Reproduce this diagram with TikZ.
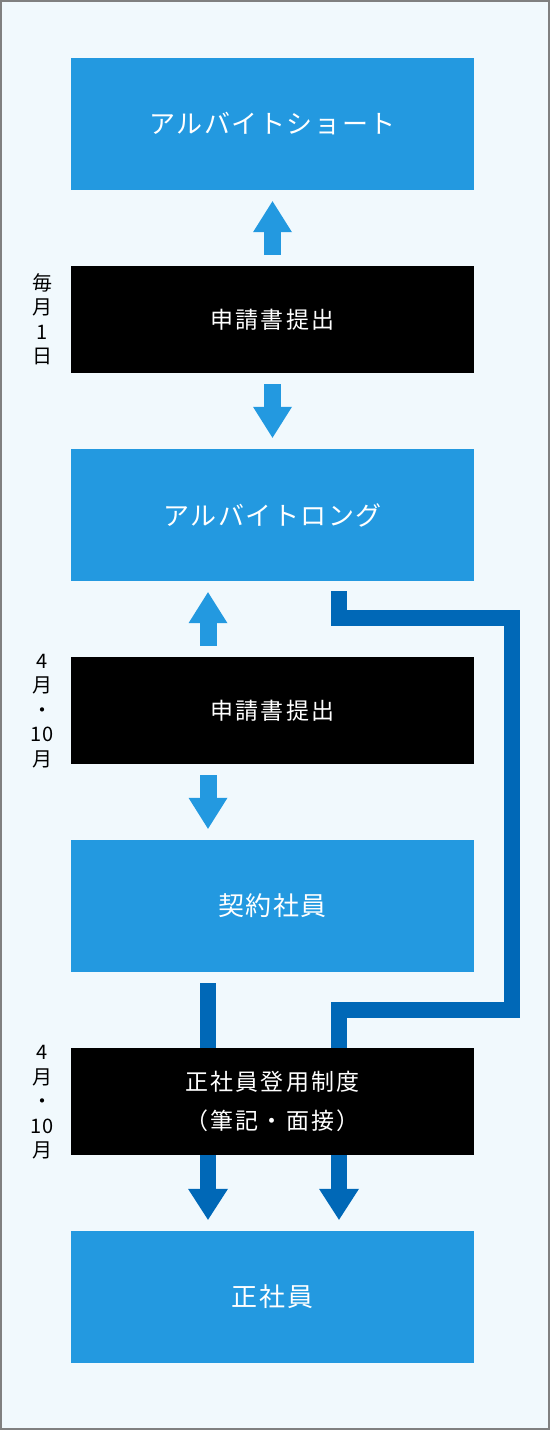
\documentclass[tikz,border=0pt]{standalone}
\usepackage{fontspec}
\setmainfont{Noto Sans CJK JP}
\newfontfamily\boxfont[LetterSpace=6]{Noto Sans CJK JP}
\newfontfamily\applyfont[LetterSpace=10]{Noto Sans CJK JP}
\usetikzlibrary{arrows.meta}
\definecolor{paleblue}{HTML}{F1F9FD}
\definecolor{boxblue}{HTML}{2399E0}
\definecolor{deepblue}{HTML}{0068B7}
\definecolor{rimgray}{HTML}{808080}
\begin{document}
\begin{tikzpicture}[x=1pt,y=-1pt,
    stage/.style={rectangle, fill=boxblue, text=white, inner sep=0pt,
      minimum width=403pt, minimum height=132pt,
      font=\boxfont\fontsize{26pt}{30pt}\selectfont},
    apply/.style={rectangle, fill=black, text=white, inner sep=0pt, align=center,
      minimum width=403pt, minimum height=107pt,
      font=\applyfont\fontsize{23pt}{39pt}\selectfont},
    when/.style={inner sep=0pt, align=center,
      font=\fontsize{20pt}{24.5pt}\selectfont},
    lift/.style={draw=boxblue, line width=17pt,
      -{Triangle[width=39pt,length=31pt,line width=0pt]},
      shorten <=11pt, shorten >=11pt},
    promote/.style={draw=deepblue, line width=16pt,
      -{Triangle[width=40pt,length=31pt,line width=0pt]},
      shorten <=11pt, shorten >=11pt}]
  \useasboundingbox (0,0) rectangle (550,1430);
  \fill[paleblue] (0,0) rectangle (550,1430);
  \draw[rimgray, line width=2pt] (1,1) rectangle (549,1429);
  % stages
  \node[stage] (short) at (272.5,124) {アルバイトショート};
  \node[stage] (long) at (272.5,515) {アルバイトロング};
  \node[stage] (contract) at (272.5,906) {契約社員};
  \node[stage] (regular) at (272.5,1297) {正社員};
  % routes to regular staff
  \draw[promote] ([xshift=-64.5pt]contract.south) -- ([xshift=-64.5pt]regular.north);
  \draw[promote, shorten <=10pt] ([xshift=66.5pt]long.south) -- ++(0,37) -- ++(173,0)
    -- ++(0,392) -- ++(-173,0) -- ([xshift=66.5pt]regular.north);
  % applications
  \node[apply] (form1) at (272.5,319.5) {申請書提出};
  \node[apply] (form2) at (272.5,710.5) {申請書提出};
  \node[apply] (exam) at (272.5,1101.5) {正社員登用制度\\（筆記・面接）};
  \node[when] (monthly) at (42,319.5) {毎\\月\\1\\日};
  \node[when] (twice1) at (42,711) {4\\月\\・\\10\\月};
  \node[when] (twice2) at (42,1102.5) {4\\月\\・\\10\\月};
  \begin{scope}[lift]
    \draw (form1.north) to (short.south);
    \draw (form1.south) to (long.north);
    \draw ([xshift=-64.5pt]form2.north) to ([xshift=-64.5pt]long.south);
    \draw ([xshift=-64.5pt]form2.south) to ([xshift=-64.5pt]contract.north);
  \end{scope}
\end{tikzpicture}
\end{document}
